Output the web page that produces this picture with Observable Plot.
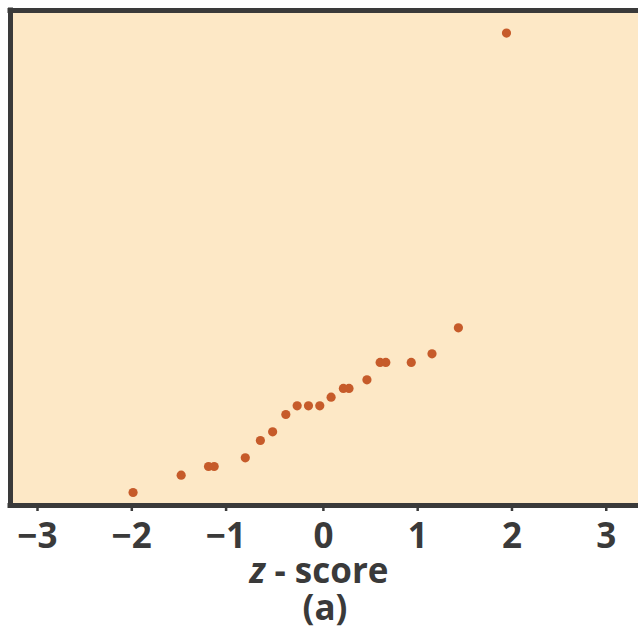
<!DOCTYPE html>
<html>
<head>
<meta charset="utf-8">
<script src="https://cdn.jsdelivr.net/npm/d3@7"></script>
<script src="https://cdn.jsdelivr.net/npm/@observablehq/plot@0.6"></script>
<style>
  html, body { margin: 0; padding: 0; background: #ffffff; }
  #wrap { position: relative; width: 638px; height: 632px; overflow: hidden; }
  .lbl { position: absolute; left: 0; width: 638px; text-align: center;
         font-family: "Open Sans", sans-serif; font-weight: 700; font-size: 35px;
         line-height: 35px; color: #3a3a3a; white-space: pre; }
</style>
</head>
<body>
<div id="wrap"></div>
<script>
// Normal quantile plot data
const zScores = [-2.05, -1.54, -1.25, -1.19, -0.86, -0.70, -0.57, -0.43, -0.31, -0.19, -0.07,
                 0.05, 0.18, 0.24, 0.43, 0.57, 0.63, 0.90, 1.12, 1.40, 1.91];
const values  = [1, 3, 4, 4, 5, 7, 8, 10, 11, 11, 11,
                 12, 13, 13, 14, 16, 16, 16, 17, 20, 54];
const xTicksNeg = [-3, -2, -1];
const xTicksPos = [0, 1, 2, 3];
const xDomain = [-3.35, 3.31];
const yDomain = [-0.5, 56.6];
const xLabel = "score";
const panelLabel = "(a)";

const points = zScores.map((z, i) => ({z, v: values[i]}));
const ink = "#3a3a3a";

const chart = Plot.plot({
  width: 638,
  height: 560,
  marginLeft: 10,
  marginRight: 0,
  marginTop: 10,
  marginBottom: 55,
  style: {fontFamily: "Open Sans, sans-serif", fontSize: "35px", fontWeight: 700, color: ink, background: "transparent"},
  x: {domain: xDomain},
  y: {domain: yDomain, axis: null},
  marks: [
    Plot.frame({fill: "#fde8c6", stroke: "none"}),
    Plot.dot(points, {x: "z", y: "v", r: 4.6, fill: "#c65b2a", stroke: "none"}),
    Plot.ruleX([xDomain[0]], {stroke: ink, strokeWidth: 5, strokeLinecap: "square"}),
    Plot.ruleY([yDomain[1]], {stroke: ink, strokeWidth: 5, strokeLinecap: "square"}),
    Plot.ruleY([yDomain[0]], {stroke: ink, strokeWidth: 5, strokeLinecap: "square"}),
    Plot.axisX(xTicksNeg, {tickSize: 6, tickPadding: 12, strokeWidth: 2.5, dx: -6, label: null, fontWeight: 700}),
    Plot.axisX(xTicksPos, {tickSize: 6, tickPadding: 12, strokeWidth: 2.5, dx: -3, label: null, fontWeight: 700})
  ]
});
const wrap = document.getElementById("wrap");
wrap.appendChild(chart);

const l1 = document.createElement("div");
l1.className = "lbl";
l1.style.top = "552px";
l1.innerHTML = "<i>z</i> - " + xLabel;
wrap.appendChild(l1);

const l2 = document.createElement("div");
l2.className = "lbl";
l2.style.top = "589px";
l2.style.left = "6px";
l2.textContent = panelLabel;
wrap.appendChild(l2);
</script>
</body>
</html>
